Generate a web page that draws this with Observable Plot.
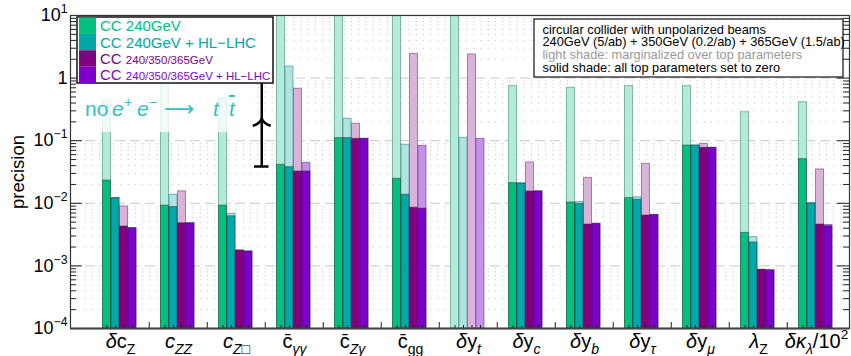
<!DOCTYPE html>
<html><head><meta charset="utf-8">
<script src="https://cdn.jsdelivr.net/npm/d3@7"></script>
<script src="https://cdn.jsdelivr.net/npm/@observablehq/plot@0.6"></script>
<style>body{margin:0;background:#fff}#chart{width:851px;height:356px}</style>
</head><body><div id="chart"></div>
<script>
// ---------------- data ----------------
const groups = ["δc_Z","c_ZZ","c_Z□","c̄_γγ","c̄_Zγ","c̄_gg","δy_t","δy_c","δy_b","δy_τ","δy_μ","λ_Z","δκ_λ/10²"];
const seriesNames = ["CC 240GeV","CC 240GeV + HL−LHC","CC 240/350/365GeV","CC 240/350/365GeV + HL−LHC"];
// solid shade: all top parameters set to zero
const solid240     = [0.0231, 0.0092, 0.0092, 0.0412, 0.110, 0.0246, null, 0.0210, 0.0103, 0.0121, 0.0838, 0.00337, 0.0507];
const solid240HL   = [0.0121, 0.0087, 0.0062, 0.0377, 0.110, 0.0137, null, 0.0206, 0.0098, 0.0114, 0.0838, 0.00237, 0.0100];
const solid365     = [0.00426,0.0048, 0.00176,0.0322, 0.107, 0.0085, null, 0.01545,0.00458,0.00638,0.0769, 0.000865,0.00458];
const solid365HL   = [0.0040, 0.0048, 0.0017, 0.0322, 0.107, 0.0082, null, 0.0155, 0.0047, 0.0065, 0.0769, 0.00085, 0.0043];
// light shade: marginalized over top parameters
const light240     = [0.45,   2.0,    0.47,   20,     20,    20,     20,    0.743,  0.70,   0.743,  0.743,  0.285,   0.412];
const light240HL   = [0.0121, 0.0137, 0.0068, 1.53,   0.224, 0.086,  0.111, 0.0210, 0.0105, 0.0125, 0.0838, 0.00288, 0.0100];
const light365     = [0.0089, 0.0155, 0.00176,0.675,  0.186, 2.44,   2.38,  0.0449, 0.0255, 0.0427, 0.089,  0.000865,0.0347];
const light365HL   = [0.0040, 0.0048, 0.0017, 0.0443, 0.107, 0.0828, 0.107, 0.0155, 0.0047, 0.0065, 0.0769, 0.00085, 0.0045];
const yTicks = [1e-4, 1e-3, 1e-2, 1e-1, 1, 10];
// annotation: "no e+e- -> tt" arrow bar
const noTopGroup = "c_Z□";
const noTopLow = 0.0387, noTopHigh = 1.49, noTopMid = 0.224;
const fadeTop = 1.0, fadeBottom = 0.135;

// ---------------- styling ----------------
const colors = ["#00c080","#00a8a8","#800080","#7f00cc"];
const lightColors = ["#b3ebd9","#b3e2e2","#d9b3d9","#c493e8"];
const lightStroke = ["#3d8f75","#2f8585","#7a3a7a","#6a35a0"];
const W = 851, H = 356, mL = 70, mR = 2, mT = 15, mB = 28;
const fw = W - mL - mR, fh = H - mT - mB;
const x0 = 87.5, step = 58.5, off = 11.5, bw = 8.5;
const ymin = 1e-4, ymax = 10;

const solids = [solid240, solid240HL, solid365, solid365HL];
const lights = [light240, light240HL, light365, light365HL];
const rows = groups.flatMap((g, i) => solids.map((s, k) => ({group: g, series: k, solid: s[i], light: lights[k][i]})));

const minors = [];
for (let e = -4; e <= 0; e++) for (let m = 2; m <= 9; m++) minors.push(m * Math.pow(10, e));

const marks = [];
marks.push(Plot.ruleY(minors, {y: d => d, stroke: "#c4c4c4", strokeDasharray: "1.2,6"}));
marks.push(Plot.ruleY([1e-3, 1e-2, 1e-1, 1], {y: d => d, stroke: "#c8c8c8", strokeDasharray: "10,5"}));
for (let k = 0; k < 4; k++) {
  marks.push(Plot.barY(rows.filter(r => r.series === k && r.light != null), {
    x: "group", y1: () => ymin, y2: "light", fill: lightColors[k],
    stroke: lightStroke[k], strokeOpacity: 0.6, strokeWidth: 1,
    insetLeft: off + bw * k, insetRight: step - off - bw * (k + 1), clip: true
  }));
}
for (let k = 0; k < 4; k++) {
  marks.push(Plot.barY(rows.filter(r => r.series === k && r.solid != null), {
    x: "group", y1: () => ymin, y2: "solid", fill: colors[k],
    stroke: "#222", strokeOpacity: 0.45, strokeWidth: 1,
    insetLeft: off + bw * k, insetRight: step - off - bw * (k + 1), clip: true
  }));
}
marks.push(Plot.barY([groups[1]], {x: d => d, y1: () => fadeBottom, y2: () => fadeTop,
  fill: "white", fillOpacity: 0.8, insetLeft: -(step + x0 - mL), insetRight: -44}));
marks.push(Plot.ruleY(yTicks, {y: d => d, insetRight: fw - 12, stroke: "#222"}));
marks.push(Plot.ruleY(yTicks, {y: d => d, insetLeft: fw - 12, stroke: "#222"}));
marks.push(Plot.ruleY(minors, {y: d => d, insetRight: fw - 6, stroke: "#222"}));
marks.push(Plot.ruleY(minors, {y: d => d, insetLeft: fw - 6, stroke: "#222"}));
marks.push(Plot.ruleX(groups.slice(1), {x: d => d, dx: -step / 2, insetTop: fh - 6, stroke: "#222"}));
for (let k = 0; k < 4; k++) {
  marks.push(Plot.ruleX(groups, {x: d => d, dx: -step / 2 + off + bw * (k + 0.5), insetTop: fh - 3, stroke: "#222"}));
}
marks.push(Plot.frame({stroke: "#333", strokeWidth: 1.2}));
marks.push(Plot.ruleY([ymin], {y: d => d, stroke: "#444", strokeWidth: 2}));
const adx = 259 - (x0 + 2.5 * step);
marks.push(Plot.ruleX([noTopGroup], {x: d => d, y1: () => noTopLow, y2: () => noTopHigh, dx: adx, stroke: "#000", strokeWidth: 2.5}));
marks.push(Plot.tickY([noTopLow, noTopHigh], {x: () => noTopGroup, y: d => d, dx: adx,
  insetLeft: (step - 15) / 2, insetRight: (step - 15) / 2, stroke: "#000", strokeWidth: 2.5}));
const arrowSymbol = {draw(ctx) {
  ctx.moveTo(-9, 7); ctx.quadraticCurveTo(-2, 5, 0, 0);
  ctx.quadraticCurveTo(2, 5, 9, 7);
}};
marks.push(Plot.dot([noTopMid], {x: () => noTopGroup, y: d => d, dx: adx, symbol: arrowSymbol,
  fill: "none", stroke: "#000", strokeWidth: 2.5}));
const yfmt = d => d === 1 ? "1" : "10^" + Math.round(Math.log10(d));
marks.push(Plot.axisY(yTicks, {tickSize: 0, tickPadding: 3, tickFormat: yfmt, fontSize: 18, label: null}));
marks.push(Plot.axisX(groups, {tickSize: 0, tickPadding: 5, fontSize: 20, label: null}));

const svg = Plot.plot({
  width: W, height: H, marginLeft: mL, marginRight: mR, marginTop: mT, marginBottom: mB,
  style: {fontFamily: "'Liberation Sans', Arial, sans-serif", background: "white", color: "#000"},
  x: {type: "band", domain: groups, range: [x0, x0 + groups.length * step], padding: 0, axis: null},
  y: {type: "log", domain: [ymin, ymax], axis: null},
  marks
});
document.getElementById("chart").appendChild(svg);

// ---------------- rich text helpers ----------------
function setRich(el, segs, base) {
  const t = d3.select(el); t.text(null);
  let shift = 0;
  for (const [s, st] of segs) {
    const flags = st.split(" ");
    const ts = t.append("tspan").text(s);
    let target = 0;
    if (flags.includes("sub")) { target = 0.3 * base; ts.attr("font-size", base * 0.7); }
    if (flags.includes("sup")) { target = -0.45 * base; ts.attr("font-size", base * 0.68); }
    if (target !== shift) { ts.attr("dy", target - shift); shift = target; }
    if (flags.includes("i")) ts.attr("font-style", "italic");
  }
}
function labelSegs(name) {
  const [head, rest] = name.split("_");
  let sub = rest, suffix = "";
  if (rest.includes("/")) { sub = rest.split("/")[0]; suffix = rest.slice(sub.length); }
  const segs = [];
  if (head.startsWith("δκ")) segs.push(["δκ", "i"]);
  else if (head.startsWith("δ")) { segs.push(["δ", "i"]); segs.push([head.slice(1), ""]); }
  else if (head === "c̄") segs.push(["c\u0304", ""]);
  else if (head === "λ") segs.push(["λ", "i"]);
  else segs.push([head, "i"]);
  const upright = (sub === "Z" && (head === "δc" || head === "λ")) || sub === "gg";
  segs.push([sub, upright ? "sub" : "sub i"]);
  if (suffix) { const m = suffix.match(/^(.*?)(²)?$/); segs.push([m[1], ""]); if (m[2]) segs.push(["2", "sup"]); }
  return segs;
}
const S = d3.select(svg);
S.selectAll('g[aria-label="y-axis tick label"] text').each(function () {
  const s = this.textContent;
  if (s.startsWith("10^")) setRich(this, [["10", ""], [s.slice(3).replace("-", "−"), "sup"]], 18);
});
S.selectAll('g[aria-label="x-axis tick label"] text').each(function () {
  setRich(this, labelSegs(this.textContent), 20);
});

// ---------------- legend & notes ----------------
const font = "'Liberation Sans', Arial, sans-serif";
const lg = S.append("g").attr("font-family", font).attr("text-anchor", "start");
lg.append("rect").attr("x", 77).attr("y", 17).attr("width", 196).attr("height", 66)
  .attr("fill", "white").attr("stroke", "#111").attr("stroke-width", 1.5);
const rowH = 16.4;
seriesNames.forEach((name, k) => {
  const y = 17.5 + rowH * k;
  lg.append("rect").attr("x", 79).attr("y", y).attr("width", 17).attr("height", rowH).attr("fill", colors[k]);
  const t = lg.append("text").attr("x", 100).attr("y", y + rowH / 2 + 5.4).attr("fill", colors[k]).attr("font-size", 15);
  if (k < 2) t.text(name);
  else { t.append("tspan").text("CC "); t.append("tspan").attr("font-size", 11.5).text(name.slice(3)); }
});
const nb = S.append("g").attr("font-family", font).attr("font-size", 12.8).attr("text-anchor", "start");
nb.append("rect").attr("x", 534).attr("y", 19).attr("width", 309).attr("height", 58)
  .attr("fill", "white").attr("stroke", "#111").attr("stroke-width", 1.2);
[["circular collider with unpolarized beams", 34, "#000"],
 ["240GeV (5/ab) + 350GeV (0.2/ab) + 365GeV (1.5/ab)", 45.5, "#000"],
 ["light shade: marginalized over top parameters", 59, "#9a9a9a"],
 ["solid shade: all top parameters set to zero", 71.5, "#000"]].forEach(([s, y, c]) => {
  nb.append("text").attr("x", 542.5).attr("y", y).attr("fill", c).text(s);
});
const nt = S.append("text").attr("y", 116).attr("text-anchor", "start").attr("font-family", font)
  .attr("font-size", 21).attr("fill", "#36bfbf");
nt.append("tspan").attr("x", 85).text("no");
nt.append("tspan").attr("x", 112).attr("font-style", "italic").text("e");
nt.append("tspan").attr("x", 124).attr("dy", -9).attr("font-size", 14).text("+");
nt.append("tspan").attr("x", 137).attr("dy", 9).attr("font-style", "italic").text("e");
nt.append("tspan").attr("x", 149).attr("dy", -9).attr("font-size", 14).text("−");
nt.append("tspan").attr("x", 164).attr("dy", 9).attr("font-family", "'DejaVu Sans', sans-serif").text("⟶");
nt.append("tspan").attr("x", 213).attr("font-style", "italic").text("t");
nt.append("tspan").attr("x", 229).attr("font-style", "italic").attr("text-decoration", "overline").text("t");
S.append("text").attr("transform", "translate(17,172) rotate(-90)").attr("text-anchor", "middle")
  .attr("dominant-baseline", "central").attr("font-family", font).attr("font-size", 18.5).text("precision");
</script>
</body></html>
